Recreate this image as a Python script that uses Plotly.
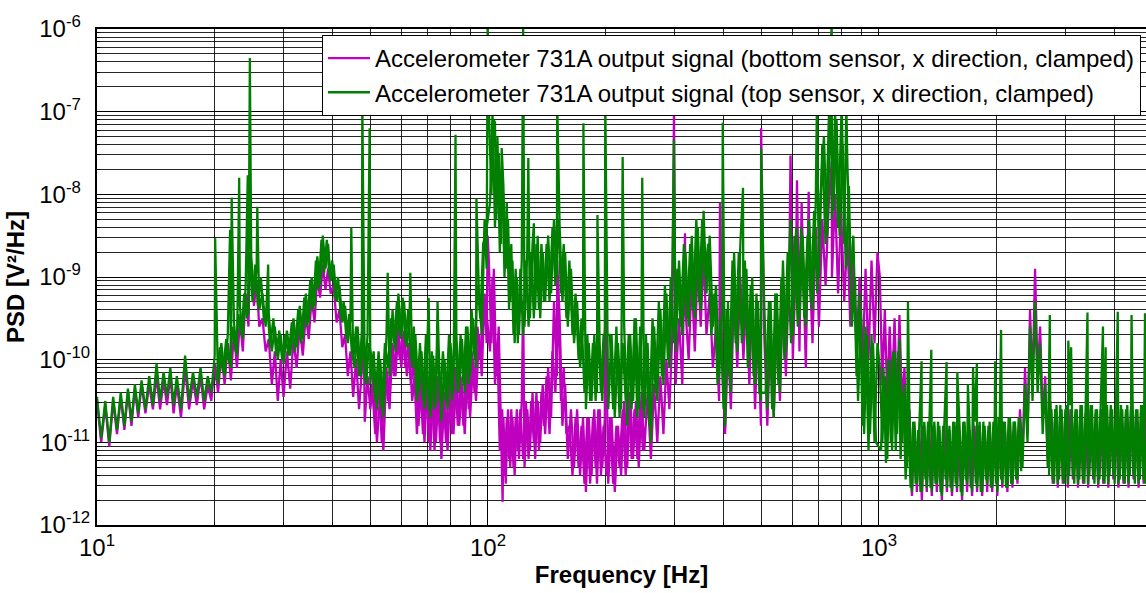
import plotly.graph_objects as go

# ---------------- data ----------------
# shared frequency grid of the broadband noise floor [Hz]
freq_hz = [
    10.0, 10.25, 10.5, 10.75, 11.0, 11.25, 11.5, 11.75, 12.0, 12.25, 12.5, 12.75,
    13.0, 13.3, 13.6, 13.9, 14.2, 14.5, 14.8, 15.1, 15.4, 15.7,
    16.0, 16.4, 16.8, 17.2, 17.6, 18.0, 18.4, 18.8, 19.2, 19.6,
    20.0, 20.4, 20.8, 21.2, 21.6, 22.0, 22.4, 22.8, 23.2, 23.6, 24.0, 24.4, 24.8, 25.2, 25.6, 26.0,
    26.5, 27.0, 27.5, 28.0, 28.5, 29.0, 29.5, 30.0,
    30.6, 31.2, 31.8, 32.4, 33.0, 33.6, 34.2, 34.8, 35.4, 36.0, 36.6, 37.2, 37.8, 38.4, 39.0, 39.6,
    40.3, 41.0, 41.7, 42.4, 43.1, 43.8, 44.5, 45.2,
    46.0, 46.8, 47.6, 48.4, 49.2,
    50.0, 51.0, 52.0, 53.0, 54.0, 55.0, 56.0, 57.0, 58.0, 59.0, 60.0, 61.0, 62.0, 63.0, 64.0,
    65.2, 66.4, 67.6, 68.8, 70.0, 71.2, 72.4, 73.6, 74.8, 76.0,
    77.4, 78.8, 80.2, 81.6, 83.0, 84.4, 85.8, 87.2, 88.6, 90.0,
    91.6, 93.2, 94.8, 96.4, 98.0,
    99.2,
    100.5, 102.0, 103.5, 105.0, 106.5, 108.0, 109.5, 111.0, 112.5, 114.0, 115.5, 117.0, 118.5, 120.0,
    122, 124, 126, 128, 130, 132, 134, 136, 138, 140,
    142.5, 145, 147.5, 150, 152.5, 155, 157.5, 160,
    163, 166, 169, 172, 175, 178, 181, 184, 187, 190, 193, 196, 199,
    203, 207, 211, 215, 219, 223, 227, 231, 235, 239, 243, 247, 251,
    256, 261, 266, 271, 276, 281, 286, 291, 296,
    302, 308, 314, 320, 326, 332, 338, 344, 350, 356, 362,
    369, 376, 383, 390, 397, 404, 411, 418,
    426, 434, 442, 450, 458, 466, 474, 482, 490,
    499,
    508, 518, 528, 538, 548, 558, 568, 578,
    590, 602, 614, 626, 638, 650,
    663, 676, 689, 702,
    716, 730, 744, 758, 772, 786, 800,
    815, 830, 845, 860,
    876, 892, 908, 924, 940,
    957, 974, 991,
    1005, 1020, 1035, 1050, 1065, 1080, 1096, 1112, 1128, 1145,
    1162, 1179, 1196, 1214, 1232, 1250, 1268, 1287, 1306, 1325,
    1345, 1365, 1385, 1406, 1427, 1448, 1470, 1492, 1514, 1537,
    1560, 1583, 1607, 1631, 1655, 1680, 1705, 1730, 1756, 1782,
    1809, 1836, 1863, 1891, 1919, 1948, 1977, 2007, 2037, 2067,
    2098, 2130, 2162, 2194, 2227, 2260, 2294, 2328, 2363, 2398,
    2434, 2470, 2507, 2545, 2583, 2622, 2661, 2701, 2741, 2782,
    2824, 2866, 2909, 2953, 2997, 3042, 3088, 3134, 3181, 3229,
    3277, 3326, 3376, 3427, 3478, 3530, 3583, 3637, 3691, 3746,
    3802, 3859, 3917, 3976, 4036, 4096, 4158, 4220, 4283, 4347,
    4412, 4478, 4545, 4613, 4682, 4752, 4823, 4895,
]

# top sensor (green) PSD, log10(V^2/Hz)
top_sensor_log10psd = [
    -10.45, -10.95, -10.5, -11.0, -10.45, -10.85, -10.4, -10.8, -10.35, -10.75, -10.3, -10.65,
    -10.25, -10.6, -10.2, -10.55, -10.05, -10.5, -10.15, -10.45, -10.1, -10.55,
    -10.2, -10.6, -9.95, -10.5, -10.15, -10.45, -10.1, -10.5, -10.2, -10.4,
    -9.95, -10.3, -9.8, -10.2, -9.7, -10.1, -9.55, -9.95, -9.35, -9.75, -9.1, -9.45, -8.75, -9.2, -8.9, -9.4,
    -9.2, -9.6, -9.45, -9.9, -9.6, -10.0, -9.7, -10.05,
    -9.65, -9.95, -9.5, -9.85, -9.35, -9.75, -9.2, -9.55, -9.0, -9.35, -8.75, -9.1, -8.5, -8.9, -8.6, -9.05,
    -8.85, -9.3, -9.1, -9.55, -9.35, -9.8, -9.5, -10.0,
    -9.6, -10.2, -9.65, -10.25, -9.7,
    -10.3, -9.9, -10.6, -10.0, -10.7, -9.7, -10.2, -9.4, -9.9, -9.2, -9.75, -9.3, -9.85, -9.5, -10.1,
    -9.7, -10.4, -9.9, -10.6, -9.8, -10.7, -9.95, -10.55, -9.85, -10.75,
    -10.0, -10.6, -9.8, -10.4, -9.7, -10.35, -9.75, -10.4, -9.6, -10.2,
    -9.5, -10.1, -9.2, -9.7, -8.3,
    -8.9,
    -6.95, -8.0, -7.1, -8.3, -7.5, -8.6, -7.9, -8.9, -8.3, -9.3, -8.8, -9.8, -9.0, -9.7,
    -8.8, -9.6, -8.7, -9.5, -8.6, -9.4, -8.5, -9.5, -8.7, -9.3,
    -8.5, -9.2, -8.3, -9.0, -8.4, -9.3, -8.7, -9.6,
    -8.9, -9.8, -9.3, -10.1, -9.6, -10.6, -9.8, -10.5, -9.7, -10.4, -9.8, -10.5, -9.6,
    -10.6, -9.7, -10.7, -9.8, -10.6, -9.6, -10.8, -9.7, -10.5, -9.5, -10.6, -9.6, -10.7,
    -9.8, -11.0, -9.6, -10.5, -9.4, -10.3, -9.2, -10.1, -9.0,
    -9.9, -8.8, -9.7, -8.7, -9.6, -8.5, -9.5, -8.4, -9.4, -8.2, -9.2,
    -8.5, -9.6, -9.1, -10.2, -9.4, -10.8, -9.3, -10.4,
    -8.7, -9.9, -8.6, -9.7, -8.9, -10.0, -9.0, -10.3, -9.3,
    -10.5,
    -9.2, -10.6, -9.3, -10.7, -9.2, -10.4, -8.8, -9.9,
    -8.6, -9.7, -8.4, -9.5, -8.5, -9.6,
    -8.3, -9.4, -8.1, -9.0,
    -7.4, -8.6, -7.1, -8.3, -7.0, -8.4, -7.2,
    -8.6, -7.6, -9.0, -8.5,
    -10.2, -9.2, -10.8, -9.6, -11.1,
    -9.7, -11.0, -9.8,
    -10.1, -11.0, -10.2, -11.2, -10.0, -11.1, -9.9, -10.9, -9.75, -11.0,
    -10.3, -11.3, -10.6, -11.6, -10.75, -11.5, -10.8, -11.6, -10.75, -11.55,
    -10.8, -11.6, -10.75, -11.5, -10.8, -11.65, -10.75, -11.55, -10.8, -11.6,
    -10.75, -11.55, -10.8, -11.65, -10.75, -11.5, -10.8, -11.6, -10.75, -11.55,
    -10.75, -11.6, -10.8, -11.5, -10.75, -11.55, -10.75, -11.6, -10.7, -11.5,
    -10.75, -11.55, -10.7, -11.5, -10.75, -11.45, -10.7, -11.3, -10.3, -11.0,
    -9.6, -10.5, -9.3, -10.4, -9.8, -10.9, -10.3, -11.3, -10.5, -11.45,
    -10.6, -11.5, -10.55, -11.45, -10.6, -11.5, -10.55, -11.4, -10.6, -11.5,
    -10.55, -11.45, -10.6, -11.5, -10.55, -11.4, -10.6, -11.5, -10.55, -11.45,
    -10.6, -11.5, -10.55, -11.4, -10.6, -11.5, -10.55, -11.45, -10.6, -11.5,
    -10.55, -11.4, -10.6, -11.5, -10.55, -11.45, -10.6, -11.5,
]

# bottom sensor (magenta) PSD, log10(V^2/Hz)
bottom_sensor_log10psd = [
    -10.5, -11.0, -10.55, -11.05, -10.5, -10.9, -10.45, -10.85, -10.4, -10.8, -10.35, -10.7,
    -10.3, -10.65, -10.3, -10.6, -10.2, -10.6, -10.25, -10.55, -10.2, -10.65,
    -10.3, -10.7, -10.1, -10.6, -10.25, -10.55, -10.2, -10.6, -10.3, -10.5,
    -10.05, -10.4, -9.9, -10.3, -9.8, -10.25, -9.65, -10.1, -9.5, -9.9, -9.2, -9.6, -8.95, -9.35, -9.05, -9.6,
    -9.5, -9.9, -9.75, -10.3, -9.9, -10.5, -10.0, -10.45,
    -9.9, -10.35, -9.75, -10.1, -9.6, -9.95, -9.45, -9.75, -9.25, -9.55, -9.0, -9.25, -8.85, -9.15, -8.9, -9.2,
    -9.1, -9.55, -9.4, -9.85, -9.7, -10.2, -9.9, -10.45,
    -10.0, -10.6, -10.1, -10.75, -10.2,
    -10.6, -10.2, -11.0, -10.4, -11.1, -10.1, -10.6, -9.8, -10.2, -9.6, -10.1, -9.65, -10.2, -9.9, -10.5,
    -10.1, -10.8, -10.3, -11.0, -10.2, -11.1, -10.4, -11.0, -10.3, -11.2,
    -10.4, -11.1, -10.3, -10.9, -10.2, -10.8, -10.3, -10.9, -10.1, -10.7,
    -10.0, -10.5, -9.7, -10.2, -9.2,
    -9.8,
    -8.8, -9.8, -8.9, -10.2, -9.6, -11.0, -10.7, -11.5, -10.6, -11.3, -10.7, -11.4, -10.6, -11.2,
    -10.5, -11.3, -10.6, -11.1, -10.4, -11.2, -10.5, -11.0, -10.3, -10.9,
    -10.1, -10.7, -9.3, -10.2, -9.5, -10.8, -10.3, -11.2,
    -10.6, -11.3, -10.6, -11.4, -10.7, -11.6, -10.7, -11.4, -10.6, -11.5, -10.6, -11.3, -10.7,
    -11.5, -10.7, -11.6, -10.8, -11.4, -10.5, -11.3, -10.4, -11.2, -10.5, -11.3, -10.4, -11.1,
    -10.4, -11.2, -10.3, -11.0, -10.2, -10.9, -10.0, -10.6, -9.7,
    -10.3, -9.5, -10.3, -9.4, -10.0, -9.0, -9.9, -8.8, -9.6, -8.7, -9.7,
    -9.2, -10.1, -9.6, -10.5, -10.0, -10.9, -9.8, -10.6,
    -9.1, -10.1, -9.0, -10.0, -9.2, -10.3, -9.3, -10.6, -9.6,
    -10.8,
    -9.6, -10.8, -9.6, -10.7, -9.5, -10.5, -9.2, -10.2,
    -8.8, -10.0, -8.7, -9.9, -8.6, -10.1,
    -8.7, -9.8, -8.4, -9.6,
    -8.3, -9.1, -8.1, -9.0, -8.0, -9.2, -8.2,
    -9.3, -8.5, -9.6, -8.8,
    -9.9, -9.0, -10.1, -8.9, -10.0,
    -8.8, -9.8, -8.7,
    -9.0, -10.3, -9.4, -10.5, -9.6, -10.4, -9.5, -10.6, -9.46, -10.5,
    -10.1, -11.2, -10.6, -11.65, -10.8, -11.6, -10.85, -11.7, -10.8, -11.6,
    -10.85, -11.65, -10.8, -11.6, -10.85, -11.7, -10.8, -11.6, -10.85, -11.65,
    -10.8, -11.6, -10.85, -11.7, -10.8, -11.6, -10.85, -11.65, -10.8, -11.6,
    -10.8, -11.65, -10.85, -11.6, -10.8, -11.6, -10.75, -11.65, -10.75, -11.55,
    -10.8, -11.6, -10.75, -11.55, -10.8, -11.5, -10.6, -11.2, -10.1, -10.9,
    -9.4, -10.3, -8.9, -10.2, -9.6, -10.7, -10.2, -11.2, -10.5, -11.5,
    -10.6, -11.55, -10.6, -11.5, -10.65, -11.55, -10.6, -11.45, -10.65, -11.55,
    -10.6, -11.5, -10.65, -11.55, -10.6, -11.45, -10.65, -11.55, -10.6, -11.5,
    -10.65, -11.55, -10.6, -11.45, -10.65, -11.55, -10.6, -11.5, -10.65, -11.55,
    -10.6, -11.45, -10.65, -11.55, -10.6, -11.5, -10.65, -11.55,
]

# narrow spectral lines (frequency [Hz], log10 PSD)
top_spike_hz = [20.05, 21.9, 22.1, 23.1, 24.3, 24.6, 25.7, 27.4, 44.7, 47.7, 49.8, 55.4,
                63.3, 70.5, 74.3, 82.6, 93.4, 99.8, 104.2, 108.4, 123.0, 126.8, 131.0,
                150.3, 175.4, 190.5, 199.5, 221.0, 248.0, 299.0, 398.5, 449.0, 499.5,
                594.0, 694.0, 757.0, 803.0, 825.0, 1186, 1285, 1361, 1489, 1586, 1688,
                1740, 1780, 1982, 2052, 2735, 3049, 3100, 3414, 3740, 3800, 4080, 4425, 4790]
top_spike_log10psd = [-8.53, -8.43, -8.04, -7.8, -7.77, -6.35, -8.15, -8.85, -8.4, -6.88, -7.2, -8.95,
                      -8.95, -9.25, -9.3, -7.28, -8.05, -5.9, -7.13, -7.44, -5.9, -7.56, -8.35,
                      -6.85, -7.14, -8.25, -6.85, -7.55, -7.8, -7.34, -7.13, -7.92, -7.45,
                      -8.3, -6.85, -5.9, -6.9, -6.9, -9.3, -10.02, -9.88, -10.03, -10.15, -10.3,
                      -10.1, -10.05, -10.02, -9.64, -9.46, -9.77, -9.85, -9.43, -9.6, -9.85, -9.42, -9.46, -9.44]
bottom_spike_hz = [24.6, 47.7, 99.8, 109.0, 123.0, 150.3, 199.5, 299.0, 319.0, 392.0,
                   499.5, 594.0, 617.0, 634.0, 661.0, 757.0]
bottom_spike_log10psd = [-8.7, -8.2, -8.5, -11.72, -9.3, -8.8, -8.9, -6.98, -8.47, -8.1,
                         -7.2, -7.53, -7.83, -8.1, -7.97, -7.6]

# extra samples of the dense noise floor (interleaved bins), top sensor
top_extra_hz_a = [
    20.2, 20.6, 21.0, 21.4, 21.8, 22.2, 22.6, 23.0, 23.4, 23.8, 24.2, 24.6, 25.0, 25.4, 25.8,
    26.25, 26.75, 27.25, 27.75, 28.25, 28.75, 29.25, 29.75,
    30.3, 30.9, 31.5, 32.1, 32.7, 33.3, 33.9, 34.5, 35.1, 35.7, 36.3, 36.9, 37.5, 38.1, 38.7, 39.3,
    39.95, 40.65, 41.35, 42.05, 42.75, 43.45, 44.15, 44.85,
    45.6, 46.4, 47.2, 48.0, 48.8, 49.6,
    50.5, 51.5, 52.5, 53.5, 54.5, 55.5, 56.5, 57.5, 58.5, 59.5, 60.5, 61.5, 62.5, 63.5, 64.6,
    65.8, 67.0, 68.2, 69.4, 70.6, 71.8, 73.0, 74.2, 75.4,
    76.7, 78.1, 79.5, 80.9, 82.3, 83.7, 85.1, 86.5, 87.9, 89.3,
    90.8, 92.4, 94.0, 95.6, 97.2, 98.6,
    101.2, 102.7, 104.2, 105.7, 107.2, 108.7, 110.2, 111.7, 113.2, 114.7, 116.2, 117.7, 119.2,
    121, 123, 125, 127, 129, 131, 133, 135, 137, 139,
    141.2, 143.7, 146.2, 148.7, 151.2, 153.7, 156.2, 158.7,
    161.5, 164.5, 167.5, 170.5, 173.5, 176.5, 179.5, 182.5, 185.5, 188.5, 191.5, 194.5, 197.5,
    205, 209, 213, 217, 221, 225, 229, 233, 237, 241, 245, 249,
    253.5, 258.5, 263.5, 268.5, 273.5, 278.5, 283.5, 288.5, 293.5,
    299, 305, 311, 317, 323, 329, 335, 341, 347, 353, 359,
    365.5, 372.5, 379.5, 386.5, 393.5, 400.5, 407.5, 414.5,
    422, 430, 438, 446, 454, 462, 470, 478, 486,
    494.5,
    513, 523, 533, 543, 553, 563, 573, 584,
    596, 608, 620, 632, 644,
    656.5, 669.5, 682.5, 695.5,
    709, 723, 737, 751, 765, 779, 793,
    807.5, 822.5, 837.5, 852.5,
    868, 884, 900, 916, 932,
    948.5, 965.5, 982.5,
    1012, 1027, 1042, 1057, 1072, 1088, 1104, 1120, 1136, 1153,
    1170, 1187, 1205, 1223, 1241, 1259, 1277, 1296, 1315, 1335,
    1355, 1375, 1395, 1416, 1437, 1459, 1481, 1503, 1525, 1548,
    1571, 1595, 1619, 1643, 1667, 1692, 1717, 1743, 1769, 1795,
    1822, 1849, 1877, 1905, 1933, 1962, 1992, 2022, 2052, 2082,
    2114, 2146, 2178, 2210, 2243, 2277, 2311,
]
top_extra_log10psd_a = [
    -10.25, -9.85, -10.15, -9.75, -10.05, -9.6, -9.9, -9.45, -9.7, -9.2, -9.5, -8.8, -9.3, -8.85, -9.35,
    -9.0, -9.55, -9.35, -9.85, -9.5, -9.95, -9.65, -10.0,
    -9.7, -9.95, -9.55, -9.9, -9.4, -9.8, -9.25, -9.6, -9.05, -9.4, -8.8, -9.15, -8.55, -8.95, -8.55, -9.0,
    -8.8, -9.25, -9.0, -9.5, -9.3, -9.75, -9.45, -9.9,
    -10.1, -9.6, -10.2, -9.7, -10.3, -9.8,
    -10.0, -10.5, -9.9, -10.6, -9.8, -10.1, -9.5, -9.8, -9.3, -9.7, -9.25, -9.8, -9.4, -10.0, -9.6,
    -10.5, -9.8, -10.5, -9.7, -10.6, -9.9, -10.6, -9.8, -10.5,
    -9.9, -10.5, -9.7, -10.5, -9.6, -10.4, -9.7, -10.3, -9.6, -10.3,
    -9.4, -10.0, -9.1, -9.5, -8.6, -8.5,
    -8.1, -7.0, -8.4, -7.3, -8.7, -7.7, -9.0, -8.1, -9.4, -8.6, -9.7, -8.9, -9.8,
    -8.9, -9.7, -8.8, -9.6, -8.7, -9.5, -8.6, -9.4, -8.6, -9.3,
    -8.6, -9.3, -8.4, -9.1, -8.3, -9.2, -8.6, -9.5,
    -8.8, -9.7, -9.2, -10.0, -9.5, -10.4, -9.7, -10.5, -9.8, -10.5, -9.7, -10.4, -9.7,
    -9.7, -10.6, -9.6, -10.7, -9.8, -10.5, -9.7, -10.6, -9.5, -10.7, -9.6, -10.6,
    -9.7, -10.8, -9.5, -10.4, -9.3, -10.2, -9.1, -10.0, -9.0,
    -9.8, -8.9, -9.6, -8.6, -9.5, -8.6, -9.4, -8.3, -9.3, -8.3, -9.0,
    -8.6, -9.7, -9.2, -10.3, -9.5, -10.6, -9.4, -10.2,
    -8.8, -9.8, -8.7, -9.8, -8.8, -10.1, -9.1, -10.2, -9.2,
    -10.4,
    -10.4, -9.3, -10.6, -9.2, -10.3, -9.0, -10.0, -8.7,
    -9.8, -8.5, -9.6, -8.4, -9.5,
    -8.5, -9.3, -8.2, -9.2,
    -8.0, -7.3, -8.5, -7.0, -8.2, -7.1, -8.5,
    -7.4, -8.9, -7.9, -9.6,
    -9.0, -10.5, -9.4, -10.9, -9.7,
    -10.9, -9.8, -11.0,
    -11.1, -10.1, -11.25, -10.0, -11.0, -9.9, -11.1, -9.9, -11.2, -10.4,
    -11.45, -10.8, -11.55, -10.75, -11.5, -10.85, -11.6, -10.8, -11.45, -10.75,
    -11.55, -10.8, -11.5, -10.75, -11.6, -10.8, -11.45, -10.85, -11.55, -10.75,
    -11.5, -10.8, -11.6, -10.75, -11.45, -10.8, -11.55, -10.75, -11.5, -10.8,
    -11.6, -10.75, -11.45, -10.8, -11.55, -10.75, -11.5, -10.7, -11.45, -10.75,
    -11.55, -10.7, -11.5, -10.75, -11.45, -10.7, -11.35,
]
top_extra_hz_b = [
    2721, 2761, 2803, 2845, 2887, 2931, 2975, 3019, 3065, 3111,
    3157, 3205, 3253, 3301, 3351, 3401, 3452, 3504, 3556, 3610,
    3664, 3718, 3774, 3830, 3888, 3946, 4006, 4066, 4127, 4189,
    4251, 4315, 4379, 4445, 4511, 4579, 4647, 4717, 4787, 4859,
]
top_extra_log10psd_b = [
    -11.4, -10.6, -11.5, -10.55, -11.45, -10.6, -11.5, -10.55, -11.4, -10.6,
    -11.5, -10.6, -11.45, -10.55, -11.5, -10.6, -11.4, -10.55, -11.5, -10.6,
    -11.45, -10.6, -11.5, -10.55, -11.4, -10.6, -11.5, -10.55, -11.45, -10.6,
    -11.5, -10.55, -11.4, -10.6, -11.5, -10.6, -11.45, -10.55, -11.5, -10.6,
]
# extra samples of the dense noise floor, bottom sensor
bottom_extra_hz = [
    50.5, 51.5, 52.5, 53.5, 54.5, 55.5, 56.5, 57.5, 58.5, 59.5, 60.5, 61.5, 62.5, 63.5, 64.6,
    65.8, 67.0, 68.2, 69.4, 70.6, 71.8, 73.0, 74.2, 75.4,
    76.7, 78.1, 79.5, 80.9, 82.3, 83.7, 85.1, 86.5, 87.9, 89.3,
    90.8, 92.4, 94.0, 95.6, 97.2, 98.6,
    101.2, 102.7, 104.2, 105.7, 107.2,
    108.7, 110.2, 111.7, 113.2, 114.7, 116.2, 117.7, 119.2,
    121, 123, 125, 127, 129, 131, 133, 135, 137, 139,
    141.2, 143.7, 146.2, 148.7, 151.2, 153.7, 156.2, 158.7,
    161.5, 164.5, 167.5, 170.5, 173.5, 176.5, 179.5, 182.5, 185.5, 188.5, 191.5, 194.5, 197.5,
    201, 205, 209, 213, 217, 221, 225, 229, 233, 237, 241, 245, 249,
]
bottom_extra_log10psd = [
    -10.3, -10.9, -10.2, -11.0, -10.1, -10.5, -9.9, -10.2, -9.7, -10.0, -9.7, -10.1, -9.8, -10.3, -10.0,
    -10.9, -10.2, -10.9, -10.1, -11.0, -10.3, -11.1, -10.2, -11.0,
    -10.3, -11.0, -10.2, -10.9, -10.1, -10.8, -10.2, -10.8, -10.0, -10.6,
    -9.9, -10.4, -9.6, -10.0, -9.3, -9.3,
    -9.9, -9.0, -10.3, -9.8, -11.1,
    -10.6, -11.4, -10.7, -11.2, -10.6, -11.3, -10.7, -11.1,
    -10.6, -11.2, -10.5, -11.2, -10.5, -11.0, -10.4, -11.1, -10.4, -10.8,
    -10.2, -10.9, -9.9, -10.4, -9.4, -10.5, -10.1, -10.9,
    -10.8, -11.4, -10.7, -11.3, -10.8, -11.5, -10.7, -11.5, -10.7, -11.3, -10.6, -11.4, -10.8,
    -11.4, -10.7, -11.5, -10.8, -11.3, -10.6, -11.4, -10.5, -11.2, -10.6, -11.2, -10.5, -11.1,
]

x_tick_vals = [10, 100, 1000]
x_tick_text = ["10<sup>1</sup>", "10<sup>2</sup>", "10<sup>3</sup>"]
y_tick_vals = [1e-12, 1e-11, 1e-10, 1e-9, 1e-8, 1e-7, 1e-6]
y_tick_text = ["10<sup>-12</sup>", "10<sup>-11</sup>", "10<sup>-10</sup>",
               "10<sup>-9\u00a0\u00a0</sup>", "10<sup>-8\u00a0\u00a0</sup>",
               "10<sup>-7\u00a0\u00a0</sup>", "10<sup>-6\u00a0\u00a0</sup>"]

name_bottom = "Accelerometer 731A output signal (bottom sensor, x direction, clamped)"
name_top = "Accelerometer 731A output signal (top sensor, x direction, clamped)"

assert len(freq_hz) == len(top_sensor_log10psd) == len(bottom_sensor_log10psd)
assert len(top_spike_hz) == len(top_spike_log10psd)
assert len(bottom_spike_hz) == len(bottom_spike_log10psd)
assert len(top_extra_hz_a) == len(top_extra_log10psd_a)
assert len(top_extra_hz_b) == len(top_extra_log10psd_b)
assert len(bottom_extra_hz) == len(bottom_extra_log10psd)


def polyline(parts):
    """Join (freq, log10psd) parts into one polyline, parts separated by gaps."""
    xs, ys = [], []
    for i, (f, v) in enumerate(parts):
        pts = sorted(zip(f, v))
        if i:
            xs.append(None)
            ys.append(None)
        xs += [p[0] for p in pts]
        ys += [10 ** p[1] for p in pts]
    return xs, ys


xb, yb = polyline([
    (freq_hz + bottom_spike_hz, bottom_sensor_log10psd + bottom_spike_log10psd),
    (bottom_extra_hz, bottom_extra_log10psd),
])
xt, yt = polyline([
    (freq_hz + top_spike_hz, top_sensor_log10psd + top_spike_log10psd),
    (top_extra_hz_a, top_extra_log10psd_a),
    (top_extra_hz_b, top_extra_log10psd_b),
])

FONT = "Liberation Sans, Arial, Helvetica, sans-serif"

fig = go.Figure()
fig.add_trace(go.Scatter(x=xb, y=yb, mode="lines", name=name_bottom, connectgaps=False,
                         line=dict(color="#BF00BF", width=2.3)))
fig.add_trace(go.Scatter(x=xt, y=yt, mode="lines", name=name_top, connectgaps=False,
                         line=dict(color="#007F00", width=2.3)))

fig.update_layout(
    width=1146, height=593,
    margin=dict(l=97, r=0, t=29, b=68, pad=0),
    paper_bgcolor="white", plot_bgcolor="white",
    font=dict(family=FONT, size=24, color="black"),
    showlegend=True,
    legend=dict(x=0.9952, xanchor="right", y=0.988, yanchor="top",
                bordercolor="black", borderwidth=1, bgcolor="white",
                font=dict(family=FONT, size=24, color="black"),
                tracegroupgap=0, itemwidth=42),
)
fig.update_xaxes(
    type="log", range=[1, 3.6829],
    tickmode="array", tickvals=x_tick_vals, ticktext=x_tick_text,
    tickfont=dict(family=FONT, size=24, color="black"),
    ticks="inside", ticklen=6, tickcolor="black",
    showgrid=True, gridcolor="black", gridwidth=1,
    minor=dict(dtick="D1", showgrid=True, gridcolor="rgba(0,0,0,0.85)", gridwidth=1,
               ticks="inside", ticklen=3, tickcolor="black"),
    showline=True, linecolor="black", linewidth=2, mirror=True,
    zeroline=False,
    title=dict(text="<b>Frequency [Hz]</b>", font=dict(family=FONT, size=24, color="black"),
               standoff=6),
)
fig.update_yaxes(
    type="log", range=[-12, -6],
    tickmode="array", tickvals=y_tick_vals, ticktext=y_tick_text,
    tickfont=dict(family=FONT, size=24, color="black"),
    ticks="inside", ticklen=6, tickcolor="black",
    showgrid=True, gridcolor="black", gridwidth=1,
    minor=dict(dtick="D1", showgrid=True, gridcolor="rgba(0,0,0,0.85)", gridwidth=1,
               ticks="inside", ticklen=3, tickcolor="black"),
    showline=True, linecolor="black", linewidth=2, mirror=False,
    zeroline=False,
    title=dict(text="<b>PSD [V²/Hz]</b>", font=dict(family=FONT, size=24, color="black"),
               standoff=8),
)

fig.write_html("out.html")
